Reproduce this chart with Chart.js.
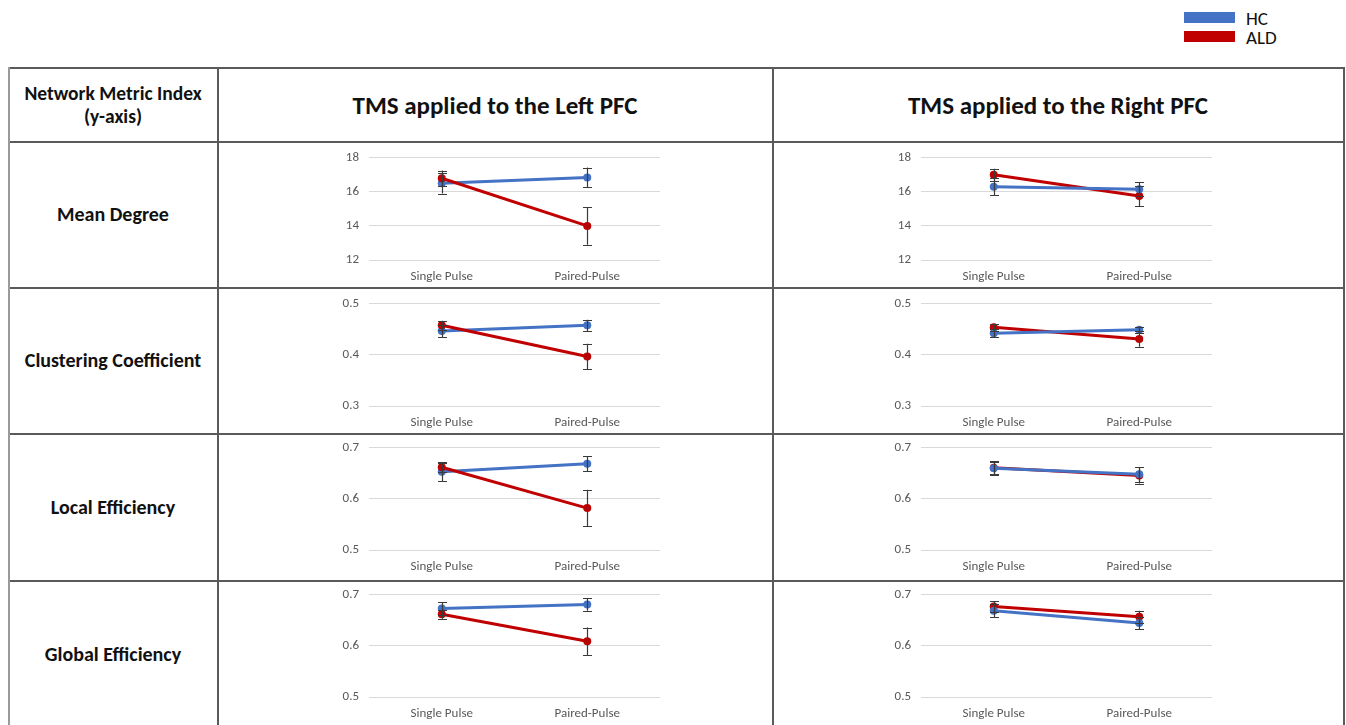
<!DOCTYPE html>
<html>
<head>
<meta charset="utf-8">
<script src="https://cdn.jsdelivr.net/npm/chart.js@4.4.1/dist/chart.umd.min.js"></script>
<style>
  html, body { margin: 0; padding: 0; background: #ffffff; }
  body { width: 1346px; height: 725px; position: relative; overflow: hidden; font-family: Carlito, Lato, "Open Sans", sans-serif; color: #111; }
  .hline, .vline { position: absolute; background: #5a5a5a; }
  .hline { height: 2px; }
  .vline { width: 2px; }
  .txt { position: absolute; font-weight: bold; text-align: center; transform: translate(-50%, -50%); white-space: nowrap; }
  .leg-box { position: absolute; width: 51px; height: 11px; }
  .leg-txt { position: absolute; font-size: 19px; font-weight: normal; transform: translateY(-50%); }
  canvas { position: absolute; }
</style>
</head>
<body>
<script>
// Categories on every panel's x axis
const categories = ['Single Pulse', 'Paired-Pulse'];
const seriesNames = ['HC', 'ALD'];
const metrics = ['Mean Degree', 'Clustering Coefficient', 'Local Efficiency', 'Global Efficiency'];
const columnTitles = ['TMS applied to the Left PFC', 'TMS applied to the Right PFC'];

// Means and error-bar half-widths, one pair [Single Pulse, Paired-Pulse] per metric
const hcLeftMean   = [[16.5, 16.85], [0.447, 0.458], [0.653, 0.669], [0.673, 0.681]];
const hcLeftErr    = [[0.6, 0.58],   [0.012, 0.011], [0.018, 0.015], [0.013, 0.012]];
const aldLeftMean  = [[16.8, 14.0],  [0.458, 0.397], [0.662, 0.582], [0.662, 0.609]];
const aldLeftErr   = [[0.45, 1.1],   [0.009, 0.025], [0.010, 0.036], [0.009, 0.027]];
const hcRightMean  = [[16.3, 16.15], [0.4425, 0.449], [0.660, 0.648], [0.669, 0.645]];
const hcRightErr   = [[0.5, 0.4],    [0.008, 0.006], [0.014, 0.014], [0.013, 0.012]];
const aldRightMean = [[17.0, 15.76], [0.454, 0.431], [0.661, 0.646], [0.677, 0.657]];
const aldRightErr  = [[0.35, 0.6],   [0.007, 0.015], [0.012, 0.016], [0.010, 0.012]];

// Y axis ranges per metric
const yMin  = [12, 0.3, 0.5, 0.5];
const yMax  = [18, 0.5, 0.7, 0.7];
const yStep = [2, 0.1, 0.1, 0.1];

const BLUE = '#4472C4';
const RED = '#C00000';
const TICK_FONT = { family: 'Carlito, Lato, sans-serif', size: 13 };

// ---- table frame ----
function addDiv(cls, style, text) {
  const d = document.createElement('div');
  d.className = cls;
  Object.assign(d.style, style);
  if (text !== undefined) d.innerHTML = text;
  document.body.appendChild(d);
  return d;
}
const rowLines = [67, 141, 287, 433, 580];
const colLines = [8, 217, 772, 1343];
rowLines.forEach(y => addDiv('hline', { left: '8px', top: y + 'px', width: '1337px' }));
colLines.forEach((x, i) => addDiv('vline', { left: x + 'px', top: '67px', height: '660px', background: i === 0 ? '#9a9a9a' : '#5a5a5a' }));

addDiv('txt', { left: '113px', top: '105px', fontSize: '19.5px', lineHeight: '23px' }, 'Network Metric Index<br>(y-axis)');
addDiv('txt', { left: '495px', top: '105px', fontSize: '25px' }, columnTitles[0]);
addDiv('txt', { left: '1058px', top: '105px', fontSize: '25px' }, columnTitles[1]);
const rowMid = [214, 360, 507, 654];
metrics.forEach((m, i) => addDiv('txt', { left: '113px', top: rowMid[i] + 'px', fontSize: '20px' }, m));

// ---- legend ----
addDiv('leg-box', { left: '1184px', top: '12px', background: BLUE });
addDiv('leg-box', { left: '1184px', top: '31px', background: RED });
addDiv('leg-txt', { left: '1246px', top: '18px' }, seriesNames[0]);
addDiv('leg-txt', { left: '1246px', top: '37px' }, seriesNames[1]);

// ---- error bars drawn through the chart's own scales ----
const errorBarPlugin = {
  id: 'errorBars',
  afterDatasetsDraw(chart) {
    const ctx = chart.ctx;
    const ys = chart.scales.y;
    ctx.save();
    ctx.strokeStyle = '#3a3a3a';
    ctx.lineWidth = 1.2;
    chart.data.datasets.forEach((ds, di) => {
      const meta = chart.getDatasetMeta(di);
      ds.data.forEach((v, i) => {
        const e = ds.errors[i];
        const x = Math.round(meta.data[i].x) + 0.5;
        const yTop = ys.getPixelForValue(v + e);
        const yBot = ys.getPixelForValue(v - e);
        ctx.beginPath();
        ctx.moveTo(x, yTop); ctx.lineTo(x, yBot);
        ctx.moveTo(x - 4.5, Math.round(yTop) + 0.5); ctx.lineTo(x + 4.5, Math.round(yTop) + 0.5);
        ctx.moveTo(x - 4.5, Math.round(yBot) + 0.5); ctx.lineTo(x + 4.5, Math.round(yBot) + 0.5);
        ctx.stroke();
      });
    });
    ctx.restore();
  }
};

// ---- the eight panels ----
const gridTop = [158, 304, 448, 595];   // pixel row of each panel's top gridline
const plotLeft = [369, 921];            // pixel column of each panel's plot area
const TOP_SPACE = 10;
const Y_AXIS_W = 48;
const X_AXIS_H = 30;
const PLOT_W = 291;
const PLOT_H = 102;

function panelConfig(col, row, hc, hcE, ald, aldE) {
  const hcSet = { label: seriesNames[0], data: hc, errors: hcE, borderColor: BLUE, backgroundColor: BLUE,
    borderWidth: 3, pointRadius: 4, pointBorderWidth: 0, order: col === 1 ? 0 : 1 };
  const aldSet = { label: seriesNames[1], data: ald, errors: aldE, borderColor: RED, backgroundColor: RED,
    borderWidth: 3, pointRadius: 4, pointBorderWidth: 0, order: col === 1 ? 1 : 0 };
  return {
    type: 'line',
    data: { labels: categories, datasets: [hcSet, aldSet] },
    options: {
      responsive: false,
      maintainAspectRatio: false,
      devicePixelRatio: 1,
      animation: false,
      events: [],
      layout: { padding: 0 },
      plugins: { legend: { display: false }, tooltip: { enabled: false } },
      scales: {
        x: {
          type: 'category',
          offset: true,
          grid: { display: false, drawTicks: false },
          border: { display: false },
          ticks: { color: '#595959', font: TICK_FONT, padding: 9, maxRotation: 0 },
          afterFit(s) { s.height = X_AXIS_H; }
        },
        y: {
          min: yMin[row], max: yMax[row],
          grid: { color: '#d9d9d9', lineWidth: 1, drawTicks: false },
          border: { display: false },
          ticks: { stepSize: yStep[row], color: '#595959', font: TICK_FONT, padding: 10 },
          afterFit(s) { s.width = Y_AXIS_W; }
        }
      }
    },
    plugins: [errorBarPlugin]
  };
}

function newCanvas(w, h) {
  const cv = document.createElement('canvas');
  cv.width = w; cv.height = h;
  cv.style.width = w + 'px'; cv.style.height = h + 'px';
  document.body.appendChild(cv);
  return cv;
}

function makePanel(col, row, hc, hcE, ald, aldE) {
  let w = Y_AXIS_W + PLOT_W;
  let h = TOP_SPACE + PLOT_H + X_AXIS_H;
  // trial layout to learn how much room the axes take
  const probeCanvas = newCanvas(w, h);
  const probe = new Chart(probeCanvas, panelConfig(col, row, hc, hcE, ald, aldE));
  const a = probe.chartArea;
  w += Math.round(PLOT_W - (a.right - a.left));
  h += Math.round(PLOT_H - (a.bottom - a.top));
  probe.destroy();
  probeCanvas.remove();

  const cv = newCanvas(w, h);
  const chart = new Chart(cv, panelConfig(col, row, hc, hcE, ald, aldE));
  // place the canvas so its plot area sits at the panel's grid position
  cv.style.left = (plotLeft[col] - chart.chartArea.left) + 'px';
  cv.style.top = (gridTop[row] - chart.chartArea.top) + 'px';
}

for (let r = 0; r < metrics.length; r++) {
  makePanel(0, r, hcLeftMean[r], hcLeftErr[r], aldLeftMean[r], aldLeftErr[r]);
  makePanel(1, r, hcRightMean[r], hcRightErr[r], aldRightMean[r], aldRightErr[r]);
}
</script>
</body>
</html>
